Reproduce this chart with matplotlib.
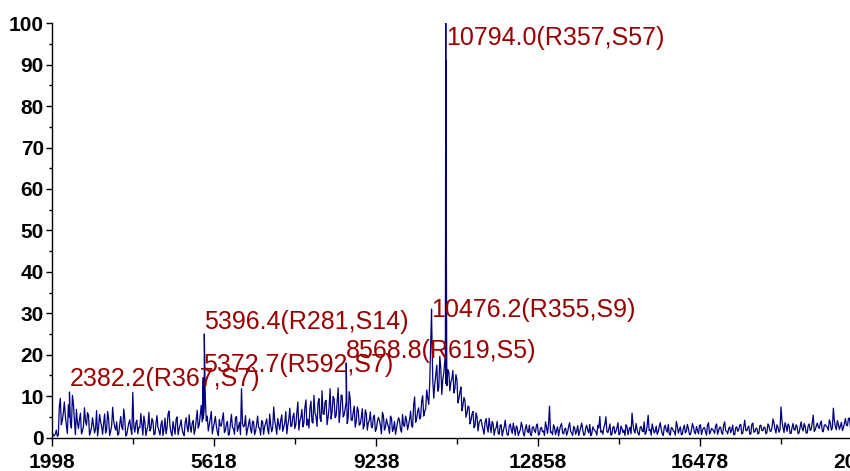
import numpy as np
import matplotlib
matplotlib.use("Agg")
import matplotlib.pyplot as plt
from matplotlib.ticker import MultipleLocator

# spectrum read off the picture: noise sampled every 45 Da from 1998,
# plus a second set of readings shifted by half a step
mz_start = 1998
mz_step = 45
noise_int = [
    1.2, 0.4, 1.8, 0.6, 9.5, 4.2, 8.6, 2.8, 7.9, 3.5, 10.2, 4.1, 6.8, 2.2, 5.9, 1.6, 7.2, 3.0, 5.4, 1.4,
    4.8, 1.1, 6.5, 2.4, 3.9, 0.8, 5.7, 2.0, 4.4, 1.5, 7.3, 2.6, 3.8, 0.9, 5.1, 1.9, 4.6, 0.7, 3.5, 2.1,
    10.9, 1.3, 4.2, 2.5, 5.8, 0.6, 3.7, 1.8, 6.1, 2.2, 4.0, 0.9, 5.3, 1.7, 3.2, 0.5, 4.7, 2.3, 6.4, 1.2,
    3.9, 0.8, 5.0, 2.1, 4.3, 1.0, 3.6, 2.4, 5.5, 1.3, 4.1, 2.0, 6.6, 3.1, 7.8, 4.5, 9.8, 5.2, 3.0, 6.3,
    2.4, 5.1, 1.3, 4.4, 2.8, 6.0, 1.7, 3.9, 0.9, 5.6, 2.2, 4.8, 1.5, 3.7, 11.8, 2.6, 5.3, 1.9, 4.5, 1.1,
    3.8, 1.6, 5.2, 2.3, 4.1, 0.8, 3.5, 2.0, 5.7, 1.4, 7.4, 2.7, 4.6, 1.9, 5.5, 2.5, 6.3, 3.0, 7.1, 2.8,
    5.9, 3.2, 8.6, 4.0, 6.8, 3.5, 9.1, 4.4, 7.2, 3.8, 10.2, 5.1, 8.4, 4.6, 11.3, 5.6, 9.0, 4.9, 11.8, 6.2,
    9.4, 5.3, 12.0, 6.0, 10.1, 5.5, 8.7, 4.8, 9.3, 4.2, 7.6, 3.9, 6.5, 3.3, 7.0, 2.9, 5.8, 3.6, 6.2, 2.4,
    5.4, 2.1, 4.9, 3.0, 6.1, 1.8, 4.5, 2.6, 5.2, 1.5, 3.9, 2.2, 4.8, 1.9, 5.6, 2.7, 4.2, 3.1, 6.4, 2.5,
    9.8, 4.6, 7.2, 5.0, 10.1, 6.3, 11.5, 8.0, 23.5, 14.0, 12.8, 17.5, 12.0, 16.8, 14.1, 18.8, 12.5, 15.8, 13.4, 16.2,
    11.8, 14.0, 9.5, 12.2, 7.8, 9.0, 5.9, 7.4, 4.2, 6.3, 2.8, 5.0, 3.6, 4.4, 1.9, 3.8, 2.5, 4.7, 1.2, 3.3,
    2.0, 3.9, 0.8, 3.1, 1.6, 4.2, 0.7, 2.8, 1.9, 3.5, 0.6, 2.4, 1.3, 3.7, 0.9, 2.2, 1.5, 3.0, 0.5, 2.6,
    1.2, 3.3, 0.8, 2.5, 1.6, 3.8, 1.0, 7.6, 1.4, 3.1, 0.7, 2.6, 1.8, 3.4, 0.9, 2.3, 1.3, 3.6, 1.1, 2.7,
    0.8, 2.9, 1.5, 3.5, 0.6, 2.4, 1.7, 3.2, 0.9, 2.0, 1.4, 3.0, 5.1, 1.6, 2.5, 5.0, 1.2, 3.3, 0.8, 2.7,
    1.5, 3.6, 0.9, 2.2, 1.8, 3.1, 0.7, 2.5, 5.9, 1.6, 3.4, 1.0, 2.4, 1.7, 3.8, 1.2, 5.4, 2.0, 3.3, 1.1,
    2.8, 1.4, 3.6, 0.9, 2.5, 1.7, 3.2, 0.6, 2.3, 1.5, 3.9, 1.1, 2.6, 0.8, 3.0, 1.6, 2.2, 0.7, 3.4, 1.3,
    2.7, 0.9, 3.1, 1.8, 2.4, 0.6, 3.6, 1.4, 2.0, 1.0, 3.3, 1.7, 2.5, 0.8, 3.8, 1.5, 2.2, 1.2, 3.0, 0.7,
    2.6, 1.9, 3.2, 1.1, 4.2, 1.6, 2.8, 0.9, 3.5, 1.4, 2.3, 1.0, 3.0, 1.7, 2.5, 1.2, 2.9, 1.5, 4.5, 2.0,
    3.1, 1.3, 7.4, 2.4, 3.6, 1.5, 2.9, 1.0, 3.4, 1.8, 2.6, 1.2, 3.8, 1.6, 2.7, 1.1, 3.3, 2.0, 5.4, 1.9,
    3.5, 2.2, 4.0, 1.4, 3.1, 2.5, 4.3, 1.8, 7.1, 2.6, 4.1, 2.0, 3.7, 2.4, 4.6, 2.9, 4.7, 3.2,
]
noise_int_b = [
    0.6, 0.9, 0.3, 7.4, 3.1, 6.0, 5.2, 1.0, 4.9, 2.3, 8.2, 0.7, 3.6, 4.4, 0.9, 2.8, 3.9, 6.0, 0.6, 2.5,
    3.0, 2.1, 0.4, 5.6, 2.7, 3.4, 1.1, 6.3, 0.5, 2.9, 4.1, 1.8, 0.6, 3.2, 2.6, 6.9, 0.4, 2.2, 4.3, 0.8,
    2.7, 3.5, 0.9, 2.4, 3.1, 5.2, 0.5, 2.8, 1.6, 4.6, 0.7, 3.3, 2.5, 0.6, 4.1, 2.2, 0.9, 5.7, 2.6, 0.4,
    2.3, 4.4, 0.7, 3.0, 2.0, 0.5, 4.8, 1.4, 2.6, 3.5, 0.8, 4.2, 2.3, 5.4, 3.8, 7.1, 4.0, 1.6, 4.7, 0.9,
    3.6, 2.8, 0.5, 2.9, 4.6, 1.2, 3.3, 0.6, 3.5, 2.4, 0.8, 5.1, 2.6, 0.7, 3.4, 2.9, 0.6, 3.1, 2.0, 4.0,
    0.7, 3.2, 2.4, 0.6, 3.8, 2.7, 4.5, 0.9, 3.0, 2.3, 4.1, 0.8, 3.3, 4.2, 1.5, 3.6, 0.9, 4.4, 2.7, 5.0,
    2.2, 6.1, 1.8, 4.9, 2.6, 7.3, 3.0, 2.3, 8.8, 3.5, 6.0, 2.7, 9.4, 3.9, 5.8, 8.6, 3.1, 7.2, 4.5, 9.9,
    4.8, 8.5, 3.6, 10.3, 5.0, 7.0, 3.4, 11.1, 4.2, 6.1, 2.5, 7.4, 3.0, 4.8, 2.1, 6.7, 1.8, 4.2, 2.6, 5.0,
    1.5, 3.9, 4.2, 0.9, 5.3, 2.4, 3.4, 1.0, 4.7, 2.1, 0.8, 3.7, 4.1, 1.3, 3.0, 5.2, 1.9, 4.5, 2.8, 7.9,
    3.7, 6.4, 4.5, 8.9, 5.2, 7.0, 9.6, 13.2, 27.0, 9.5, 15.1, 11.2, 19.6, 10.4, 15.6, 13.0, 16.4, 11.3, 14.2, 10.8,
    15.2, 8.4, 11.0, 6.5, 9.7, 4.9, 7.6, 3.3, 5.7, 2.4, 6.0, 1.6, 4.1, 3.0, 0.8, 4.6, 1.3, 2.7, 3.9, 0.6,
    2.4, 1.1, 3.0, 0.4, 2.6, 1.9, 0.6, 3.3, 1.0, 2.1, 2.8, 0.5, 1.9, 2.7, 0.4, 3.1, 1.2, 0.8, 2.5, 1.7,
    2.9, 0.6, 2.2, 1.4, 0.5, 2.6, 3.1, 1.2, 0.7, 2.4, 1.8, 0.4, 2.9, 1.1, 2.0, 0.6, 2.7, 1.5, 0.5, 2.3,
    1.6, 0.5, 2.4, 1.9, 0.7, 3.0, 1.1, 0.5, 2.6, 1.7, 0.6, 2.3, 1.3, 0.8, 3.2, 1.5, 2.1, 0.6, 2.5, 1.0,
    2.4, 0.7, 2.8, 1.2, 0.5, 2.6, 1.9, 0.9, 3.1, 1.1, 2.0, 0.6, 2.7, 1.4, 0.8, 2.9, 1.7, 0.6, 2.2, 1.5,
    0.8, 2.6, 2.0, 0.5, 3.0, 1.3, 0.9, 2.4, 1.6, 0.6, 2.8, 1.9, 0.7, 2.3, 1.1, 3.2, 0.8, 1.9, 2.6, 0.9,
    1.8, 2.9, 0.7, 2.3, 1.4, 3.1, 0.9, 2.2, 1.6, 2.8, 0.8, 2.5, 1.2, 3.0, 1.7, 0.9, 2.6, 1.9, 0.7, 2.4,
    1.5, 3.0, 0.9, 2.7, 1.8, 2.4, 0.8, 3.2, 1.3, 2.2, 0.9, 2.9, 1.7, 2.5, 0.9, 3.3, 1.6, 2.4, 3.6, 1.1,
    2.4, 1.9, 3.9, 1.2, 2.8, 3.3, 1.0, 2.5, 1.9, 3.1, 0.9, 2.6, 2.2, 3.4, 1.1, 2.9, 1.7, 3.6, 1.5, 2.8,
    2.6, 3.4, 1.6, 3.0, 2.7, 1.8, 3.6, 2.3, 4.1, 1.9, 3.2, 2.8, 1.7, 3.5, 2.9, 4.6, 2.4, 3.8,
]

# sharp peaks
spike_mz = [2382.2, 5372.7, 5396.4, 8568.8, 10476.2, 10785.0, 10794.0, 10799.0, 10806.0]
spike_int = [11.0, 14.5, 25.0, 18.0, 31.0, 20.0, 100.0, 91.0, 49.0]

# labelled peaks
label_mz = [2382.2, 5372.7, 5396.4, 8568.8, 10476.2, 10794.0]
label_int = [11.0, 14.5, 25.0, 18.0, 31.0, 100.0]
label_text = ["2382.2(R367,S7)", "5372.7(R592,S7)", "5396.4(R281,S14)",
              "8568.8(R619,S5)", "10476.2(R355,S9)", "10794.0(R357,S57)"]
label_dy = [4.5, 3.9, 3.3, 3.6, -5.4, -15.5]  # points, baseline offset from peak top

mz_a = mz_start + mz_step * np.arange(len(noise_int))
mz_b = mz_start + mz_step / 2 + mz_step * np.arange(len(noise_int_b))
mz = np.concatenate([mz_a, mz_b, spike_mz])
inten = np.concatenate([noise_int, noise_int_b, spike_int])
order = np.argsort(mz, kind="stable")
mz, inten = mz[order], inten[order]

fig = plt.figure(figsize=(8.5, 4.71), dpi=100)
ax = fig.add_axes([0.0615, 0.0709, 0.9526, 0.8798])

ax.plot(mz, inten, color="#000080", lw=0.9)

for x, y, t, dy in zip(label_mz, label_int, label_text, label_dy):
    ax.annotate(t, xy=(x, y), xytext=(0, dy), textcoords="offset points",
                ha="left", va="baseline", color="#990000",
                fontsize=18, family="Liberation Sans")

ax.set_xlim(1998, 20098)
ax.set_ylim(0, 100)
ax.set_xticks([1998, 5618, 9238, 12858, 16478, 20098])
ax.set_xticks([3808, 7428, 11048, 14668, 18288], minor=True)
ax.yaxis.set_major_locator(MultipleLocator(10))
ax.yaxis.set_minor_locator(MultipleLocator(5))

for s in ["top", "right"]:
    ax.spines[s].set_visible(False)
for s in ["left", "bottom"]:
    ax.spines[s].set_linewidth(1.0)

ax.tick_params(axis="x", which="major", length=6, width=1, pad=5)
ax.tick_params(axis="x", which="minor", length=4.5, width=1)
ax.tick_params(axis="y", which="major", length=4, width=1, pad=2)
ax.tick_params(axis="y", which="minor", length=2.5, width=1)
for lab in ax.get_xticklabels() + ax.get_yticklabels():
    lab.set_fontfamily("Liberation Sans")
    lab.set_fontweight("bold")
    lab.set_fontsize(15)

fig.savefig("out.png", dpi=100)
